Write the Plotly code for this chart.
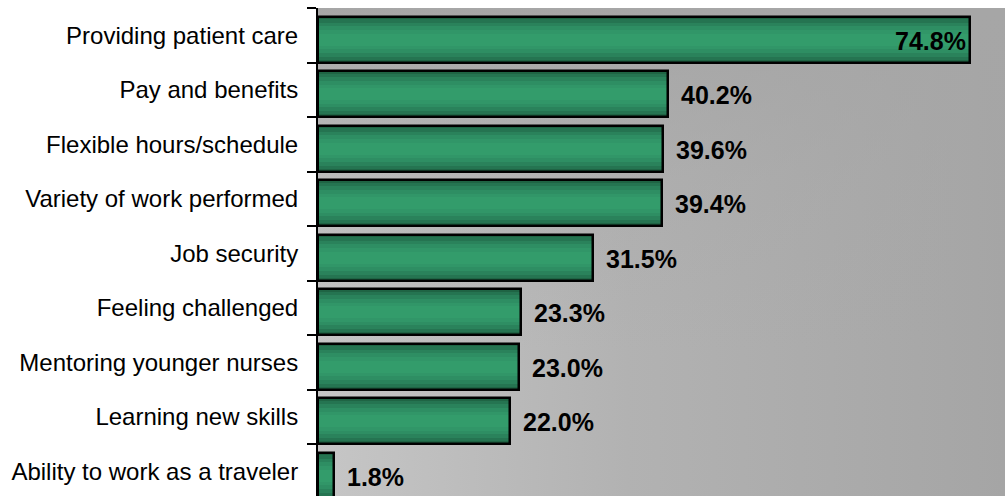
import base64
import plotly.graph_objects as go

categories = [
    "Providing patient care",
    "Pay and benefits",
    "Flexible hours/schedule",
    "Variety of work performed",
    "Job security",
    "Feeling challenged",
    "Mentoring younger nurses",
    "Learning new skills",
    "Ability to work as a traveler",
]
values = [74.8, 40.2, 39.6, 39.4, 31.5, 23.3, 23.0, 22.0, 1.8]
labels = ["74.8%", "40.2%", "39.6%", "39.4%", "31.5%", "23.3%", "23.0%", "22.0%", "1.8%"]

pos = list(range(len(categories)))

# bar geometry (in category units)
BAR_W = 0.84
BAR_CENTER_SHIFT = 0.08

# background gradient as inline SVG
svg = (
    '<svg xmlns="http://www.w3.org/2000/svg" width="687" height="488" viewBox="0 0 687 488" preserveAspectRatio="none">'
    '<defs>'
    '<linearGradient id="h" x1="0" y1="0" x2="1" y2="0">'
    '<stop offset="0" stop-color="#c6c6c6"/>'
    '<stop offset="0.45" stop-color="#b2b2b2"/>'
    '<stop offset="1" stop-color="#a5a5a5"/>'
    '</linearGradient>'
    '<linearGradient id="v" x1="0" y1="0" x2="0" y2="1">'
    '<stop offset="0" stop-color="#a6a6a6" stop-opacity="1"/>'
    '<stop offset="0.35" stop-color="#a6a6a6" stop-opacity="0.3"/>'
    '<stop offset="0.7" stop-color="#a6a6a6" stop-opacity="0"/>'
    '</linearGradient>'
    '</defs>'
    '<rect x="0" y="0" width="687" height="488" fill="url(#h)"/>'
    '<rect x="0" y="0" width="687" height="488" fill="url(#v)"/>'
    '</svg>'
)
svg_uri = "data:image/svg+xml;base64," + base64.b64encode(svg.encode()).decode()

fig = go.Figure()

# gradient layers for bars (dark edges -> light center)
layers = [
    (1.00, "#1f6444"),
    (0.88, "#257451"),
    (0.74, "#2a825b"),
    (0.58, "#2e8e63"),
    (0.42, "#319668"),
    (0.26, "#339c6b"),
]
for frac, col in layers:
    w = BAR_W * frac
    fig.add_trace(go.Bar(
        y=pos, x=values, orientation="h",
        width=[w] * len(pos),
        offset=[BAR_CENTER_SHIFT - w / 2] * len(pos),
        marker=dict(color=col, line=dict(width=0)),
        hoverinfo="skip", showlegend=False,
    ))

# outline
fig.add_trace(go.Bar(
    y=pos, x=values, orientation="h",
    width=[BAR_W] * len(pos),
    offset=[BAR_CENTER_SHIFT - BAR_W / 2] * len(pos),
    marker=dict(color="rgba(0,0,0,0)", line=dict(color="#000000", width=2.5)),
    showlegend=False,
))

# value labels
for i, (v, t) in enumerate(zip(values, labels)):
    inside = i == 0
    fig.add_annotation(
        x=v, y=i + BAR_CENTER_SHIFT, text="<b>" + t + "</b>", showarrow=False,
        xanchor="right" if inside else "left",
        xshift=-2 if inside else 11,
        yshift=-1,
        font=dict(family="Arial, Liberation Sans, sans-serif", size=25, color="#000000"),
    )

fig.update_layout(
    width=1005, height=496,
    margin=dict(l=318, r=0, t=8, b=0, pad=0),
    paper_bgcolor="#ffffff",
    plot_bgcolor="rgba(0,0,0,0)",
    barmode="overlay",
    bargap=0,
    showlegend=False,
    images=[dict(source=svg_uri, xref="paper", yref="paper", x=0, y=1,
                 sizex=1, sizey=1, sizing="stretch", xanchor="left", yanchor="top",
                 layer="below")],
    xaxis=dict(range=[0, 78.8], showgrid=False, zeroline=False, showticklabels=False,
               ticks="", showline=False, fixedrange=True),
    yaxis=dict(
        range=[8.454, -0.5],
        tickmode="array", tickvals=pos, ticktext=categories,
        ticks="outside", ticklen=9, tickcolor="rgba(0,0,0,0)", tickwidth=2,
        ticklabelstandoff=4,
        showgrid=False, zeroline=False,
        showline=True, linecolor="#000000", linewidth=2,
        tickfont=dict(family="Arial, Liberation Sans, sans-serif", size=24, color="#000000"),
        minor=dict(tickmode="array", tickvals=[p - 0.5 for p in pos] + [len(pos) - 0.5],
                   ticks="outside", ticklen=9, tickwidth=2, tickcolor="#000000", showgrid=False),
        fixedrange=True,
    ),
)

fig.write_html(
    "out.html",
    config={"displayModeBar": False},
    post_script="document.body.style.margin='0';document.body.style.overflow='hidden';",
)
